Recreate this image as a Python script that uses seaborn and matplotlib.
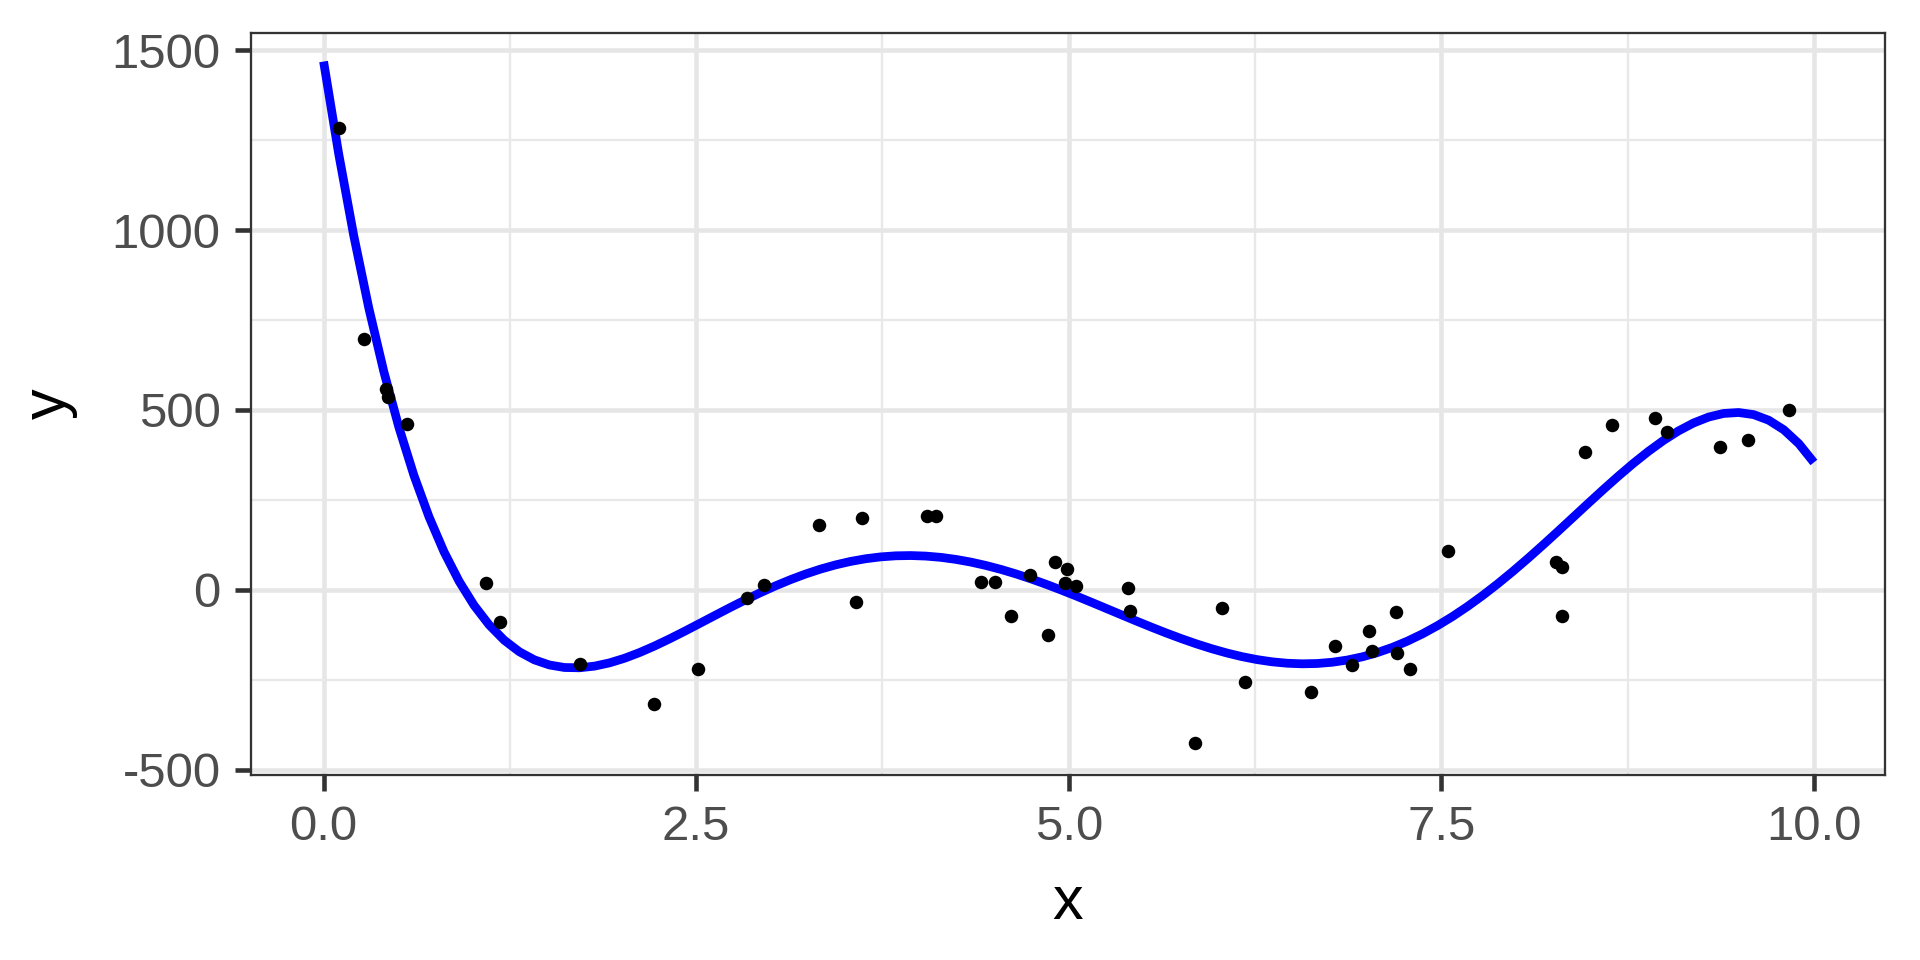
import numpy as np
import pandas as pd
import matplotlib
matplotlib.use("Agg")
import matplotlib.pyplot as plt
from matplotlib.ticker import MultipleLocator
import seaborn as sns

x_vals = [0.103, 0.269, 0.421, 0.432, 0.56, 1.093, 1.187, 1.72, 2.219, 2.514,
          2.843, 2.957, 3.322, 3.573, 3.611, 4.052, 4.106, 4.412, 4.502, 4.612,
          4.741, 4.860, 4.905, 4.988, 4.977, 5.05, 5.397, 5.408, 5.847, 6.031,
          6.186, 6.624, 6.785, 6.9, 7.016, 7.032, 7.193, 7.204, 7.287, 7.542,
          8.27, 8.308, 8.312, 8.464, 8.643, 8.932, 9.017, 9.369, 9.559, 9.832]
y_vals = [1283, 697, 558, 535, 462, 18, -89, -206, -318, -221,
          -24, 14, 180, -35, 199, 206, 206, 23, 21, -74,
          42, -126, 77, 59, 20, 12, 5, -60, -425, -50,
          -257, -285, -157, -209, -115, -171, -62, -177, -220, 108,
          78, 63, -72, 383, 457, 477, 438, 398, 416, 499]
x_ticks = [0.0, 2.5, 5.0, 7.5, 10.0]
x_tick_labels = ["0.0", "2.5", "5.0", "7.5", "10.0"]
y_ticks = [-500, 0, 500, 1000, 1500]
y_tick_labels = ["-500", "0", "500", "1000", "1500"]

df = pd.DataFrame({"x": x_vals, "y": y_vals})

sns.set_theme(style="white")
plt.rcParams["font.family"] = ["Liberation Sans", "DejaVu Sans"]

fig = plt.figure(figsize=(6.4, 3.2), dpi=300)
ax = fig.add_axes([0.1305, 0.193, 0.8515, 0.773])

# smooth fit spanning x in [0, 10]
ax.set_xlim(0, 10)
sns.regplot(data=df, x="x", y="y", order=5, ci=None, truncate=False,
            scatter=False, ax=ax,
            line_kws=dict(color="#0000FF", lw=2.1, zorder=3, solid_capstyle="butt"))
sns.scatterplot(data=df, x="x", y="y", ax=ax, color="black", s=10.5,
                linewidth=0, zorder=4)

ax.set_xlim(-0.49, 10.48)
ax.set_ylim(-514, 1549)

ax.set_xticks(x_ticks)
ax.set_xticklabels(x_tick_labels)
ax.set_yticks(y_ticks)
ax.set_yticklabels(y_tick_labels)
ax.xaxis.set_minor_locator(MultipleLocator(1.25))
ax.yaxis.set_minor_locator(MultipleLocator(250))

ax.set_facecolor("white")
ax.grid(which="major", color="#E6E6E6", lw=1.1, zorder=0)
ax.grid(which="minor", color="#E8E8E8", lw=0.55, zorder=0)
ax.set_axisbelow(True)
for sp in ax.spines.values():
    sp.set_color("#333333")
    sp.set_linewidth(0.55)
    sp.set_visible(True)

ax.tick_params(axis="both", which="major", length=3.9, width=1.1,
               color="#333333", labelcolor="#4D4D4D", labelsize=11.8, pad=3.3,
               bottom=True, left=True)
ax.tick_params(axis="both", which="minor", length=0, bottom=False, left=False)

ax.set_xlabel("x", fontsize=14.7, color="black", labelpad=6)
ax.set_ylabel("y", fontsize=14.7, color="black", labelpad=8)

fig.savefig("out.png", dpi=300, facecolor="white")
